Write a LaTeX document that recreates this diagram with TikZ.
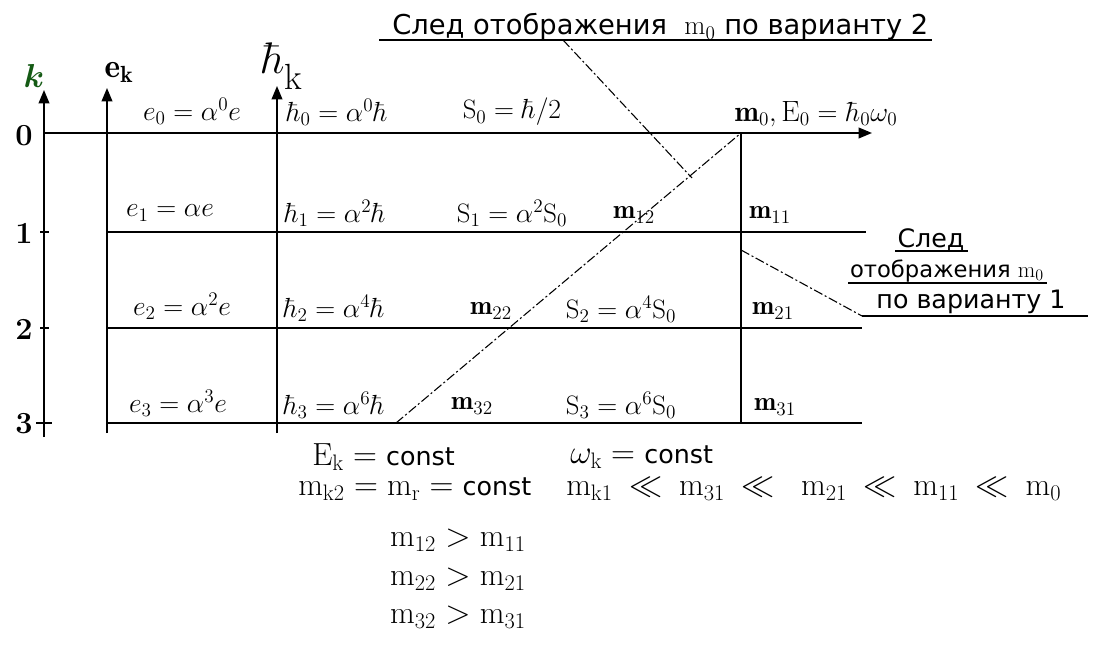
\documentclass[tikz,border=0pt]{standalone}
\usepackage{fontspec}
\usepackage{amsmath}
\newfontfamily\cyr{DejaVu Sans}
\usetikzlibrary{arrows.meta}
\definecolor{kgreen}{RGB}{20,90,20}
\newcommand{\cst}{\text{\cyr\fontsize{19}{22}\selectfont const}}
\newcommand{\bigll}{\mathrel{\mkern4mu\ll\mkern4mu}}
\begin{document}
\begin{tikzpicture}[x=0.75pt,y=-0.75pt,
  every node/.style={inner sep=0pt,font=\fontsize{20}{24}\selectfont},
  axis/.style={line width=1.2pt,-{Triangle[length=10pt,width=8pt]}},
  grid/.style={line width=1.2pt},
  dd/.style={line width=0.8pt,dash pattern=on 7pt off 2pt on 1.5pt off 2pt},
  lbl/.style={font=\cyr\fontsize{19}{22}\selectfont},
  rel/.style={font=\fontsize{24}{27}\selectfont},
  ecol/.style={font=\fontsize{21.5}{25}\selectfont},
  tick/.style={font=\bfseries\fontsize{23}{26}\selectfont}]
\useasboundingbox (0,0) rectangle (1094,655);
% coordinates
\coordinate (kB) at (44,437);
\coordinate (kT) at (44,90);
\coordinate (eB) at (107,433);
\coordinate (eT) at (107,88);
\coordinate (hB) at (277,433);
\coordinate (hT) at (277,86);
\coordinate (h0L) at (44,133);
\coordinate (h0R) at (872,133);
\coordinate (h1L) at (107,232);
\coordinate (h1R) at (866,232);
\coordinate (h2L) at (107,328);
\coordinate (h2R) at (862,328);
\coordinate (h3L) at (107,423);
\coordinate (h3R) at (862,423);
\coordinate (vT) at (741,133);
\coordinate (vB) at (741,423);
\coordinate (dA) at (396,423);
\coordinate (t1) at (40,232);
\coordinate (t1r) at (49,232);
\coordinate (t2) at (40,328);
\coordinate (t2r) at (49,328);
\coordinate (t3) at (36,423);
\coordinate (t3r) at (52,423);
% axes
\draw[axis] (kB) -- (kT);
\draw[axis] (eB) -- (eT);
\draw[axis] (hB) -- (hT);
\draw[axis] (h0L) -- (h0R);
% grid
\draw[grid] (h1L) -- (h1R);
\draw[grid] (h2L) -- (h2R);
\draw[grid] (h3L) -- (h3R);
\draw[grid] (vT) -- (vB);
\draw[grid] (t1) -- (t1r);
\draw[grid] (t2) -- (t2r);
\draw[grid] (t3) -- (t3r);
% diagonal
\draw[dd] (dA) -- (vT);
% axis labels
\node[text=kgreen,font=\fontsize{28}{30}\selectfont] (klab) at (34,76) {$\boldsymbol{k}$};
\node[font=\fontsize{25}{28}\selectfont] (elab) at (119,72) {$\mathbf{e}_{\mathbf{k}}$};
\node[font=\fontsize{21}{24}\selectfont,anchor=base west] (hlab) at (261,74) {$\scalebox{1.6}{$\hbar$}_{\scalebox{1.3}{$\mathrm{k}$}}$};
\node[tick] (n0) at (24,136) {0};
\node[tick] (n1) at (24,233) {1};
\node[tick] (n2) at (24,329) {2};
\node[tick] (n3) at (24,424) {3};
% row 0
\node[ecol] (e0) at (192,111) {$e_0=\alpha^0 e$};
\node (hb0) at (337,112) {$\hbar_0=\alpha^0\hbar$};
\node (S0) at (512,112) {$\mathrm{S}_0=\hbar/2$};
\node[font=\fontsize{22}{26}\selectfont] (m0) at (816,114) {$\mathbf{m}_0,\mathrm{E}_0=\hbar_0\omega_0$};
% row 1
\node[ecol] (e1) at (170,213) {$e_1=\alpha e$};
\node (hb1) at (335,213) {$\hbar_1=\alpha^2\hbar$};
\node (S1) at (512,213) {$\mathrm{S}_1=\alpha^2\mathrm{S}_0$};
\node (m12) at (634,215) {$\mathbf{m}_{12}$};
\node (m11) at (770,215) {$\mathbf{m}_{11}$};
% row 2
\node[ecol] (e2) at (182,306) {$e_2=\alpha^2 e$};
\node (hb2) at (334,308) {$\hbar_2=\alpha^4\hbar$};
\node (m22) at (491,311) {$\mathbf{m}_{22}$};
\node (S2) at (621,309) {$\mathrm{S}_2=\alpha^4\mathrm{S}_0$};
\node (m21) at (773,311) {$\mathbf{m}_{21}$};
% row 3
\node[ecol] (e3) at (178,403) {$e_3=\alpha^3 e$};
\node (hb3) at (334,405) {$\hbar_3=\alpha^6\hbar$};
\node (m32) at (472,406) {$\mathbf{m}_{32}$};
\node (S3) at (621,405) {$\mathrm{S}_3=\alpha^6\mathrm{S}_0$};
\node (m31) at (775,407) {$\mathbf{m}_{31}$};
% bottom relations
\node[rel,anchor=west] (Ek) at (312,457) {$\mathrm{E_k}=\cst$};
\node[rel,anchor=west] (wk) at (570,457) {$\omega_{\mathrm{k}}=\cst$};
\node[rel,anchor=west] (mk2) at (298,489) {$\mathrm{m_{k2}=m_r}=\cst$};
\node[rel,anchor=west] (mk1) at (566,489) {$\mathrm{m_{k1}\bigll m_{31}\bigll\ m_{21}\bigll m_{11}\bigll m_0}$};
\node[font=\fontsize{24}{26}\selectfont] (r1) at (458,540) {$\mathrm{m_{12}>m_{11}}$};
\node[font=\fontsize{24}{26}\selectfont] (r2) at (458,579) {$\mathrm{m_{22}>m_{21}}$};
\node[font=\fontsize{24}{26}\selectfont] (r3) at (458,617) {$\mathrm{m_{32}>m_{31}}$};
% label variant 2
\node[lbl,font=\cyr\fontsize{20.5}{24}\selectfont,anchor=base west] (L2) at (392,35) {След отображения\ \ $\mathrm{m}_0$\ по варианту 2};
\coordinate (L2a) at (379,40);
\coordinate (L2b) at (932,40);
\coordinate (L2c) at (563,40);
\coordinate (L2d) at (692,178);
\draw[line width=1.1pt] (L2a) -- (L2b);
\draw[dd] (L2c) -- (L2d);
% label variant 1
\node[lbl] (L1a) at (931,240) {След};
\node[lbl,font=\cyr\fontsize{17}{20}\selectfont] (L1b) at (947,271) {отображения $\mathrm{m}_0$};
\node[lbl] (L1c) at (971,302) {по варианту 1};
\coordinate (u1a) at (895,251);
\coordinate (u1b) at (968,251);
\coordinate (u2a) at (848,283);
\coordinate (u2b) at (1047,283);
\coordinate (u3a) at (862,316);
\coordinate (u3b) at (1088,316);
\coordinate (dB) at (741,250);
\draw[line width=1.1pt] (u1a) -- (u1b);
\draw[line width=1.1pt] (u2a) -- (u2b);
\draw[line width=1.1pt] (u3a) -- (u3b);
\draw[dd] (dB) -- (u3a);
\end{tikzpicture}
\end{document}
